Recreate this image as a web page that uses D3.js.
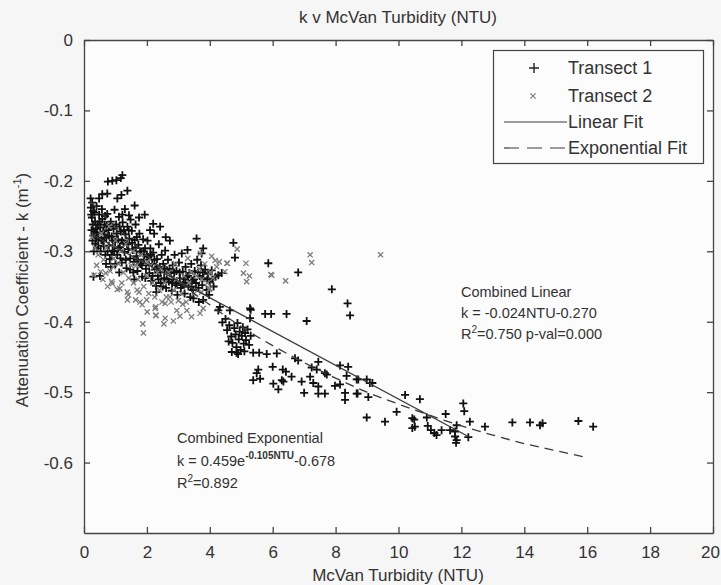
<!DOCTYPE html>
<html>
<head>
<meta charset="utf-8">
<script src="https://cdn.jsdelivr.net/npm/d3@7"></script>
<style>
  body { margin: 0; background: #f6f6f6; }
  svg { display: block; font-family: "Liberation Sans", Arial, sans-serif; }
</style>
</head>
<body>
<script>
// values
var xTicks = [0, 2, 4, 6, 8, 10, 12, 14, 16, 18, 20]
var yTicks = [0, -0.1, -0.2, -0.3, -0.4, -0.5, -0.6]

// Transect 1 (+)
var transect1 = [
  [0.76,-0.201],[0.90,-0.200],[1.03,-0.199],[1.17,-0.196],[1.22,-0.192],
  [1.38,-0.214],[1.19,-0.220],[1.06,-0.225],[0.21,-0.225],[0.48,-0.225],[0.58,-0.219],[0.74,-0.218],
  [1.61,-0.235],[1.93,-0.248],[1.22,-0.248],[1.43,-0.249],[2.20,-0.261],[2.42,-0.265],
  [3.58,-0.282],[3.79,-0.296],[3.74,-0.303],[4.75,-0.288],[4.80,-0.309],[5.86,-0.317],[6.81,-0.330],
  [7.88,-0.354],[8.38,-0.374],[8.46,-0.391],[5.30,-0.383],[5.76,-0.389],[5.95,-0.389],[6.44,-0.389],
  [7.08,-0.399],[5.28,-0.395],[4.27,-0.384],[4.38,-0.331],[4.27,-0.334],[4.32,-0.379],[4.64,-0.384],
  [5.28,-0.381],[3.48,-0.367],[3.79,-0.369],[0.30,-0.336],[0.51,-0.335],
  [0.22,-0.238],[0.25,-0.252],[0.28,-0.262],[0.24,-0.270],[0.30,-0.278],[0.27,-0.285],[0.33,-0.245],
  [0.35,-0.258],[0.38,-0.268],[0.36,-0.289],[0.41,-0.274],[0.44,-0.262],[0.46,-0.281],[0.42,-0.296],
  [0.48,-0.248],[0.31,-0.300],[0.26,-0.231],[0.40,-0.236],
  [0.52,-0.266],[0.55,-0.284],[0.58,-0.254],[0.61,-0.272],[0.63,-0.293],[0.66,-0.262],[0.68,-0.305],
  [0.71,-0.281],[0.74,-0.247],[0.77,-0.270],[0.79,-0.292],[0.82,-0.311],[0.85,-0.258],[0.88,-0.279],
  [0.91,-0.299],[0.94,-0.268],[0.97,-0.241],[0.99,-0.287],[0.57,-0.240],[0.70,-0.318],[0.86,-0.322],
  [1.02,-0.262],[1.05,-0.305],[1.08,-0.283],[1.11,-0.251],[1.14,-0.294],[1.17,-0.272],[1.20,-0.316],
  [1.23,-0.259],[1.26,-0.288],[1.29,-0.301],[1.32,-0.276],[1.35,-0.324],[1.38,-0.265],[1.41,-0.297],
  [1.44,-0.282],[1.47,-0.310],[1.12,-0.330],[1.30,-0.240],[1.48,-0.255],
  [1.52,-0.271],[1.55,-0.298],[1.58,-0.315],[1.61,-0.284],[1.64,-0.262],[1.67,-0.307],[1.70,-0.328],
  [1.73,-0.291],[1.76,-0.275],[1.79,-0.318],[1.82,-0.301],[1.85,-0.336],[1.88,-0.283],[1.91,-0.312],
  [1.94,-0.296],[1.97,-0.325],[1.60,-0.340],[1.75,-0.252],
  [2.02,-0.285],[2.05,-0.308],[2.08,-0.331],[2.11,-0.296],[2.14,-0.342],[2.17,-0.318],[2.20,-0.302],
  [2.23,-0.275],[2.26,-0.326],[2.29,-0.349],[2.32,-0.311],[2.35,-0.335],[2.38,-0.290],[2.41,-0.322],
  [2.44,-0.345],[2.47,-0.305],[2.10,-0.270],[2.30,-0.358],
  [2.52,-0.318],[2.55,-0.338],[2.58,-0.299],[2.61,-0.352],[2.64,-0.327],[2.67,-0.312],[2.70,-0.343],
  [2.73,-0.285],[2.76,-0.331],[2.79,-0.356],[2.82,-0.320],[2.85,-0.340],[2.88,-0.305],[2.91,-0.348],
  [2.94,-0.328],[2.97,-0.362],[2.60,-0.280],
  [3.02,-0.316],[3.05,-0.338],[3.08,-0.352],[3.11,-0.303],[3.14,-0.329],[3.17,-0.345],[3.20,-0.360],
  [3.23,-0.322],[3.26,-0.337],[3.29,-0.298],[3.32,-0.350],[3.35,-0.331],[3.38,-0.365],[3.41,-0.318],
  [3.44,-0.342],[3.47,-0.355],
  [3.52,-0.328],[3.56,-0.345],[3.60,-0.312],[3.64,-0.352],[3.68,-0.335],[3.72,-0.320],[3.76,-0.348],
  [3.80,-0.338],[3.85,-0.326],[3.90,-0.355],[3.95,-0.332],[4.00,-0.343],[4.06,-0.327],[4.12,-0.350],
  [4.18,-0.336],[3.65,-0.372],[3.98,-0.362],
  [0.23,-0.248],[0.29,-0.243],[0.34,-0.272],[0.39,-0.282],[0.45,-0.292],[0.50,-0.258],[0.53,-0.300],
  [0.60,-0.285],[0.64,-0.276],[0.67,-0.250],[0.72,-0.263],[0.75,-0.300],[0.80,-0.278],[0.83,-0.265],
  [0.87,-0.305],[0.92,-0.285],[0.96,-0.300],[1.00,-0.318],[1.04,-0.275],[1.09,-0.296],[1.13,-0.265],
  [1.16,-0.310],[1.21,-0.285],[1.27,-0.270],[1.33,-0.312],[1.37,-0.290],[1.42,-0.270],[1.46,-0.326],
  [1.53,-0.288],[1.57,-0.330],[1.63,-0.295],[1.68,-0.280],[1.72,-0.312],[1.78,-0.300],[1.84,-0.320],
  [1.89,-0.300],[1.95,-0.338],[2.00,-0.305],[2.07,-0.320],[2.13,-0.305],[2.18,-0.335],[2.24,-0.312],
  [2.31,-0.325],[2.37,-0.340],[2.43,-0.330],[2.50,-0.350],[2.57,-0.325],[2.63,-0.340],[2.72,-0.325],
  [2.80,-0.345],[2.87,-0.330],[2.95,-0.345],[3.04,-0.330],[3.13,-0.348],[3.22,-0.340],[3.31,-0.335],
  [3.40,-0.350],[3.50,-0.340],[3.62,-0.330],[3.78,-0.330],[3.92,-0.340],[4.08,-0.340],
  [4.55,-0.412],[4.62,-0.405],[4.68,-0.421],[4.72,-0.430],[4.78,-0.409],[4.82,-0.418],[4.85,-0.436],
  [4.88,-0.402],[4.92,-0.425],[4.95,-0.414],[4.98,-0.440],[5.02,-0.420],[5.05,-0.408],[5.08,-0.431],
  [5.12,-0.416],[5.15,-0.426],[5.20,-0.411],[5.25,-0.433],[4.70,-0.443],[4.90,-0.446],[5.10,-0.442],
  [4.60,-0.428],[5.30,-0.420],[4.40,-0.401],[4.50,-0.396],
  [4.85,-0.444],[5.38,-0.444],[5.57,-0.444],[5.81,-0.446],[6.13,-0.445],[6.00,-0.464],[6.71,-0.452],
  [6.81,-0.455],[7.45,-0.457],[6.32,-0.468],[6.42,-0.471],[5.54,-0.468],[5.49,-0.473],[5.38,-0.483],
  [5.60,-0.481],[6.02,-0.488],[6.18,-0.496],[6.29,-0.483],[6.34,-0.485],[6.60,-0.478],[6.92,-0.485],
  [7.19,-0.478],[7.29,-0.487],[7.45,-0.492],[7.66,-0.473],[7.72,-0.475],[7.00,-0.501],[7.45,-0.502],
  [7.66,-0.502],[7.98,-0.491],[8.14,-0.489],[8.14,-0.462],[8.40,-0.464],[8.30,-0.501],[8.67,-0.502],
  [8.30,-0.511],[8.35,-0.477],[8.67,-0.482],[8.99,-0.482],[7.24,-0.465],[7.40,-0.468],
  [8.72,-0.482],[9.09,-0.487],[8.70,-0.502],[9.04,-0.507],[10.21,-0.504],[10.68,-0.510],[12.06,-0.516],
  [12.09,-0.527],[9.94,-0.528],[8.99,-0.536],[9.57,-0.542],[10.50,-0.539],[10.52,-0.549],[10.90,-0.536],
  [10.93,-0.548],[11.03,-0.554],[11.14,-0.558],[11.50,-0.531],[11.37,-0.554],[11.64,-0.554],[11.80,-0.556],
  [11.85,-0.547],[12.27,-0.542],[11.21,-0.561],[11.80,-0.563],[12.75,-0.549],[13.62,-0.543],[14.18,-0.543],
  [14.50,-0.547],[14.58,-0.544],[15.72,-0.541],[16.19,-0.549],[12.22,-0.564],[11.83,-0.572],[11.85,-0.568],
  [10.44,-0.537],[10.44,-0.551],[9.17,-0.487]
]

// Transect 2 (x)
var transect2 = [
  [4.87,-0.297],[4.06,-0.307],[4.17,-0.313],[4.56,-0.317],[5.15,-0.317],[7.19,-0.305],[7.24,-0.316],
  [9.43,-0.305],[5.94,-0.333],[5.07,-0.331],[5.26,-0.335],[5.17,-0.343],[6.41,-0.342],[4.48,-0.329],
  [3.98,-0.354],[5.97,-0.334],[4.54,-0.317],[4.00,-0.353],[3.74,-0.358],[2.73,-0.365],[2.58,-0.374],
  [2.95,-0.384],[3.42,-0.393],
  [0.32,-0.334],[0.53,-0.329],[0.69,-0.331],[0.83,-0.328],[0.93,-0.322],[0.90,-0.346],[1.06,-0.354],
  [1.38,-0.358],[1.38,-0.369],[1.64,-0.369],[1.69,-0.355],[1.75,-0.358],[1.85,-0.376],[2.01,-0.386],
  [2.28,-0.379],[2.28,-0.391],[0.88,-0.343],[1.14,-0.353],[1.41,-0.362],[1.87,-0.403],[1.89,-0.416],
  [2.26,-0.381],[2.29,-0.391],[2.58,-0.395],[2.54,-0.403],[2.84,-0.399],[3.05,-0.392],[3.27,-0.384],
  [3.14,-0.375],[3.69,-0.388],[3.79,-0.381],[1.99,-0.369],[1.78,-0.372],
  [0.25,-0.280],[0.35,-0.295],[0.45,-0.305],[0.55,-0.275],[0.62,-0.312],[0.72,-0.295],[0.80,-0.265],
  [0.95,-0.310],[1.00,-0.285],[1.10,-0.318],[1.18,-0.300],[1.25,-0.330],[1.33,-0.290],[1.42,-0.338],
  [1.50,-0.320],[1.57,-0.345],[1.66,-0.320],[1.72,-0.340],[1.80,-0.305],[1.90,-0.350],[1.98,-0.335],
  [2.06,-0.360],[2.12,-0.320],[2.19,-0.345],[2.25,-0.365],[2.33,-0.330],[2.40,-0.355],[2.48,-0.372],
  [2.56,-0.345],[2.62,-0.365],[2.69,-0.330],[2.77,-0.372],[2.86,-0.355],[2.93,-0.340],[3.00,-0.370],
  [3.10,-0.360],[3.18,-0.335],[3.25,-0.372],[3.33,-0.345],[3.40,-0.330],[3.50,-0.360],[3.58,-0.335],
  [3.66,-0.325],[3.75,-0.340],[3.84,-0.318],[3.92,-0.345],[4.02,-0.330],[4.10,-0.338],[4.22,-0.322],
  [4.30,-0.315],[0.40,-0.320],[0.60,-0.340],[0.75,-0.350],[1.20,-0.345],[1.55,-0.300],[2.00,-0.315],
  [2.45,-0.325],[2.90,-0.318],[3.30,-0.310],[3.70,-0.303]
]

// fitted lines
var linearFit = [[0.2, -0.275], [12.22, -0.563]]
var expFit = [
  [0.2,-0.229],[1,-0.265],[2,-0.306],[3,-0.343],[4,-0.376],[5,-0.407],[6,-0.434],[7,-0.458],
  [8,-0.480],[9,-0.500],[10,-0.517],[11,-0.533],[12,-0.548],[13,-0.561],[14,-0.573],[15,-0.583],[16,-0.593]
]
var legendLabels = ['Transect 1', 'Transect 2', 'Linear Fit', 'Exponential Fit']

var width = 721
var height = 585
var padL = 84, padR = 713, padT = 40, padB = 533

var svg = d3.select('body').append('svg')
    .attr('width', width)
    .attr('height', height)

svg.append('rect').attr('width', width).attr('height', height).attr('fill', '#f6f6f6')

var x = d3.scaleLinear().domain([0, 20]).range([padL, padR])
var y = d3.scaleLinear().domain([-0.7, 0]).range([padB, padT])

svg.append('rect')
    .attr('x', padL).attr('y', padT)
    .attr('width', padR - padL).attr('height', padB - padT)
    .attr('fill', '#fcfcfc')

var fmtY = function(d) { return d === 0 ? '0' : d.toFixed(1) }

function styleAxis(g) {
  g.selectAll('path').attr('stroke', '#444').attr('stroke-width', 1.3)
  g.selectAll('line').attr('stroke', '#444').attr('stroke-width', 1.3)
  g.selectAll('text').attr('fill', '#333').attr('font-size', '17px')
    .attr('font-family', '"Liberation Sans", Arial, sans-serif')
}

var xAxisG = svg.append('g').attr('transform', 'translate(0,' + padB + ')')
    .call(d3.axisBottom(x).tickValues(xTicks).tickSizeInner(-6).tickSizeOuter(0).tickPadding(13))
    .call(styleAxis)
// last label sits right at the window edge
xAxisG.selectAll('.tick text').filter(function(d) { return d === 20 }).attr('dx', -3)

svg.append('g').attr('transform', 'translate(0,' + padT + ')')
    .call(d3.axisTop(x).tickValues(xTicks).tickSizeInner(-6).tickSizeOuter(0).tickFormat(''))
    .call(styleAxis)
svg.append('g').attr('transform', 'translate(' + padL + ',0)')
    .call(d3.axisLeft(y).tickValues(yTicks).tickSizeInner(-6).tickSizeOuter(0).tickPadding(11).tickFormat(fmtY))
    .call(styleAxis)
svg.append('g').attr('transform', 'translate(' + padR + ',0)')
    .call(d3.axisRight(y).tickValues(yTicks).tickSizeInner(-6).tickSizeOuter(0).tickFormat(''))
    .call(styleAxis)

var plusPath = 'M-4,0H4M0,-4V4'
var crossPath = 'M-2.6,-2.6L2.6,2.6M-2.6,2.6L2.6,-2.6'

var plot = svg.append('g')

plot.selectAll('.t1').data(transect1).enter().append('path')
    .attr('class', 't1')
    .attr('d', plusPath)
    .attr('transform', function(d) { return 'translate(' + x(d[0]) + ',' + y(d[1]) + ')' })
    .attr('stroke', '#111')
    .attr('stroke-width', 1.8)

plot.selectAll('.t2').data(transect2).enter().append('path')
    .attr('class', 't2')
    .attr('d', crossPath)
    .attr('transform', function(d) { return 'translate(' + x(d[0]) + ',' + y(d[1]) + ')' })
    .attr('stroke', '#7c7c7c')
    .attr('stroke-width', 1.3)

var line = d3.line()
    .x(function(d) { return x(d[0]) })
    .y(function(d) { return y(d[1]) })

plot.append('path').datum(linearFit)
    .attr('d', line)
    .attr('fill', 'none').attr('stroke', '#3a3a3a').attr('stroke-width', 1.3)

plot.append('path').datum(expFit)
    .attr('d', line.curve(d3.curveMonotoneX))
    .attr('fill', 'none').attr('stroke', '#3a3a3a').attr('stroke-width', 1.3)
    .attr('stroke-dasharray', '9,6')

// legend
var lg = svg.append('g')
lg.append('rect')
    .attr('x', 493.5).attr('y', 50.5).attr('width', 210).attr('height', 113)
    .attr('fill', '#fcfcfc').attr('stroke', '#444').attr('stroke-width', 1.2)

var rowsY = [68, 96, 122, 148]
legendLabels.forEach(function(lab, i) {
  lg.append('text')
      .attr('x', 568).attr('y', rowsY[i] + 6)
      .attr('font-size', '18px').attr('fill', '#333')
      .text(lab)
})
lg.append('path').attr('d', 'M-5,0H5M0,-5V5')
    .attr('transform', 'translate(534,' + rowsY[0] + ')')
    .attr('stroke', '#222').attr('stroke-width', 1.4)
lg.append('path').attr('d', crossPath)
    .attr('transform', 'translate(533,' + rowsY[1] + ')')
    .attr('stroke', '#7c7c7c').attr('stroke-width', 1.2)
lg.append('line').attr('x1', 504).attr('x2', 567).attr('y1', rowsY[2]).attr('y2', rowsY[2])
    .attr('stroke', '#3a3a3a').attr('stroke-width', 1.2)
lg.append('line').attr('x1', 504).attr('x2', 567).attr('y1', rowsY[3]).attr('y2', rowsY[3])
    .attr('stroke', '#3a3a3a').attr('stroke-width', 1.2).attr('stroke-dasharray', '15,8')

// titles
svg.append('text')
    .attr('x', 398).attr('y', 23)
    .attr('text-anchor', 'middle').attr('font-size', '17px').attr('fill', '#333')
    .text('k v McVan Turbidity (NTU)')

svg.append('text')
    .attr('x', 398).attr('y', 581)
    .attr('text-anchor', 'middle').attr('font-size', '17px').attr('fill', '#333')
    .text('McVan Turbidity (NTU)')

var yl = svg.append('text')
    .attr('transform', 'translate(28,290) rotate(-90)')
    .attr('text-anchor', 'middle').attr('font-size', '17px').attr('fill', '#333')
yl.append('tspan').text('Attenuation Coefficient - k (m')
yl.append('tspan').attr('dy', -7).attr('font-size', '11px').text('-1')
yl.append('tspan').attr('dy', 7).text(')')

// annotations
var ann = svg.append('g').attr('font-size', '14.5px').attr('fill', '#333')
ann.append('text').attr('x', 461).attr('y', 297).text('Combined Linear')
ann.append('text').attr('x', 461).attr('y', 318).text('k = -0.024NTU-0.270')
var r1 = ann.append('text').attr('x', 461).attr('y', 339)
r1.append('tspan').text('R')
r1.append('tspan').attr('dy', -6).attr('font-size', '10px').text('2')
r1.append('tspan').attr('dy', 6).text('=0.750 p-val=0.000')

ann.append('text').attr('x', 177).attr('y', 443).text('Combined Exponential')
var e1 = ann.append('text').attr('x', 177).attr('y', 466)
e1.append('tspan').text('k = 0.459e')
e1.append('tspan').attr('dy', -7).attr('font-size', '10px').attr('font-weight', 'bold').text('-0.105NTU')
e1.append('tspan').attr('dy', 7).text('-0.678')
var r2 = ann.append('text').attr('x', 177).attr('y', 488)
r2.append('tspan').text('R')
r2.append('tspan').attr('dy', -6).attr('font-size', '10px').text('2')
r2.append('tspan').attr('dy', 6).text('=0.892')
</script>
</body>
</html>
